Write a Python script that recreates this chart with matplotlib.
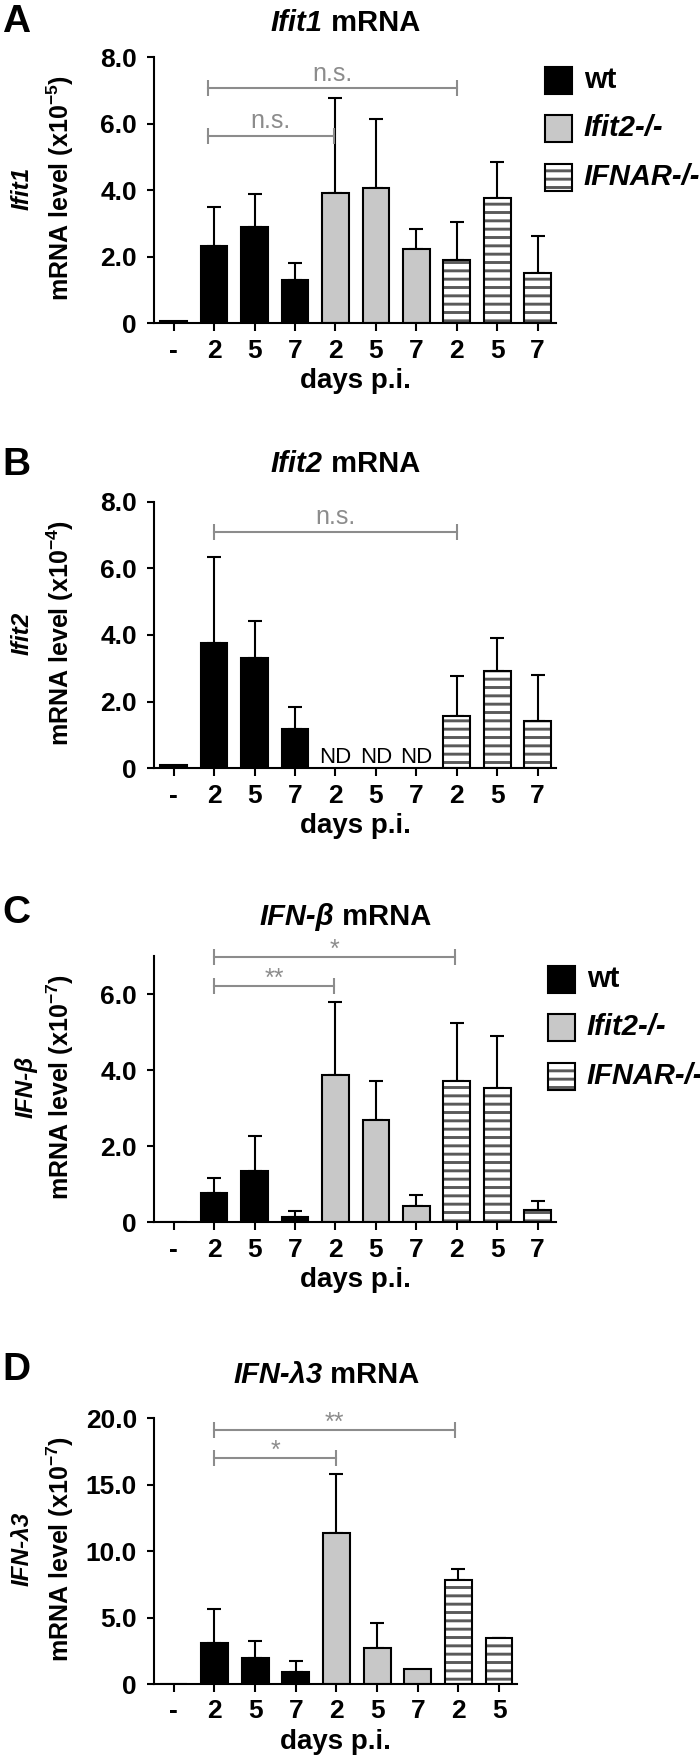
import numpy as np
import matplotlib
matplotlib.use("Agg")
from matplotlib import pyplot as plt
from matplotlib.patches import Rectangle
from matplotlib.offsetbox import TextArea, HPacker, AnnotationBbox

plt.rcParams['font.family'] = ['Liberation Sans', 'DejaVu Sans']
plt.rcParams['font.weight'] = 'bold'
plt.rcParams['axes.labelweight'] = 'bold'
plt.rcParams['mathtext.fontset'] = 'custom'
plt.rcParams['mathtext.rm'] = 'Liberation Sans:bold'
plt.rcParams['mathtext.bf'] = 'Liberation Sans:bold'
plt.rcParams['mathtext.it'] = 'Liberation Sans:italic:bold'
plt.rcParams['hatch.linewidth'] = 2.1

# ---- data ----
days = ["-", "2", "5", "7", "2", "5", "7", "2", "5", "7"]
groups = ["wt", "wt", "wt", "wt", "ko", "ko", "ko", "ifnar", "ifnar", "ifnar"]
legend_labels = ["wt", "Ifit2-/-", "IFNAR-/-"]

ifit1_mean = [0.06, 2.31, 2.91, 1.30, 3.91, 4.06, 2.23, 1.90, 3.76, 1.52]
ifit1_sd = [np.nan, 1.20, 0.97, 0.50, 2.88, 2.09, 0.60, 1.16, 1.08, 1.12]

ifit2_mean = [0.10, 3.75, 3.30, 1.18, np.nan, np.nan, np.nan, 1.58, 2.91, 1.43]
ifit2_sd = [np.nan, 2.60, 1.11, 0.65, np.nan, np.nan, np.nan, 1.20, 1.00, 1.38]

ifnb_mean = [0.0, 0.77, 1.34, 0.13, 3.88, 2.68, 0.42, 3.71, 3.53, 0.33]
ifnb_sd = [np.nan, 0.39, 0.94, 0.16, 1.92, 1.04, 0.30, 1.52, 1.37, 0.24]

ifnl3_mean = [0.0, 3.10, 1.98, 0.93, 11.36, 2.73, 1.10, 7.86, 3.43]
ifnl3_sd = [np.nan, 2.51, 1.27, 0.82, 4.41, 1.83, np.nan, 0.83, 0.07]

# brackets: (start, end, y, label)
brackets_a = [(0.84, 7, 7.07, "n.s."), (0.84, 3.96, 5.64, "n.s.")]
brackets_b = [(1, 7, 7.1, "n.s.")]
brackets_c = [(1, 6.96, 6.97, "*"), (1, 3.96, 6.22, "**")]
brackets_d = [(1, 6.92, 19.1, "**"), (1, 4.0, 17.0, "*")]

W, H = 700, 1759
fig = plt.figure(figsize=(W / 100, H / 100), dpi=100)

gray = "#c8c8c8"
stripe = "#5a5a5a"
bracket_col = "#8c8c8c"
left_px = 154.3
unit_px = 38.5


def make_axes(top, bottom, ncat):
    right = left_px + (ncat - 0.5 + 0.45 + 0.48) * unit_px
    return fig.add_axes([left_px / W, 1 - bottom / H,
                         (right - left_px) / W, (bottom - top) / H])


def draw_panel(ax, mean, sd, ymax, yticks, yticklabels, brackets):
    n = len(mean)
    x = np.arange(n)
    mean = np.array(mean, dtype=float)
    sd = np.array(sd, dtype=float)
    ok = ~np.isnan(mean)
    grp = np.array(groups[:n])

    # error bars (upper only)
    has_err = ok & ~np.isnan(sd)
    ax.errorbar(x[has_err], mean[has_err],
                yerr=[np.zeros(has_err.sum()), sd[has_err]],
                fmt='none', ecolor='black', elinewidth=1.5, capsize=5,
                capthick=1.5, zorder=1)

    m = ok & (grp == "wt")
    ax.bar(x[m], mean[m], 0.66, color='black', edgecolor='black',
           linewidth=1.5, zorder=2)
    m = ok & (grp == "ko")
    ax.bar(x[m], mean[m], 0.66, color=gray, edgecolor='black',
           linewidth=1.5, zorder=2)
    m = ok & (grp == "ifnar")
    ax.bar(x[m], mean[m], 0.66, color='white', edgecolor=stripe,
           hatch='--', linewidth=0, zorder=2)
    ax.bar(x[m], mean[m], 0.66, fill=False, edgecolor='black',
           linewidth=1.5, zorder=3)

    ax.set_xlim(-0.48, n - 1 + 0.45)
    ax.set_ylim(0, ymax)
    ax.set_yticks(yticks)
    ax.set_yticklabels(yticklabels)
    ax.set_xticks(x)
    ax.set_xticklabels(days[:n])
    for s in ["top", "right"]:
        ax.spines[s].set_visible(False)
    for s in ["left", "bottom"]:
        ax.spines[s].set_linewidth(1.5)
    ax.tick_params(axis='y', length=5, width=1.5, pad=7.5, labelsize=19)
    ax.tick_params(axis='x', length=6, width=1.5, pad=5, labelsize=19)
    ax.set_xlabel("days p.i.", fontsize=20, labelpad=4)

    for x0, x1, y, lab in brackets:
        ax.plot([x0, x1], [y, y], color=bracket_col, lw=1.5, marker='|',
                markersize=11, mew=1.5, clip_on=False, zorder=4)
        off = 5.5 if lab == "n.s." else 0
        ax.annotate(lab, xy=((x0 + x1) / 2, y), xytext=(0, off),
                    textcoords='offset points', ha='center', va='baseline',
                    color=bracket_col, fontsize=18, fontweight='normal')


def draw_legend(top, right):
    bx = right + 8
    for i, lab in enumerate(legend_labels):
        cy = top + [23, 71, 120][i]
        fx, fy = bx / W, 1 - (cy + 13.5) / H
        fw, fh = 27 / W, 27 / H
        if i == 0:
            fig.add_artist(Rectangle((fx, fy), fw, fh, transform=fig.transFigure,
                                     facecolor='black', edgecolor='black', lw=1.5))
        elif i == 1:
            fig.add_artist(Rectangle((fx, fy), fw, fh, transform=fig.transFigure,
                                     facecolor=gray, edgecolor='black', lw=1.5))
        else:
            fig.add_artist(Rectangle((fx, fy), fw, fh, transform=fig.transFigure,
                                     facecolor='white', edgecolor=stripe,
                                     hatch='--', lw=0))
            fig.add_artist(Rectangle((fx, fy), fw, fh, transform=fig.transFigure,
                                     fill=False, edgecolor='black', lw=1.5))
        fig.text((bx + 39) / W, 1 - cy / H, lab, fontsize=21, va='center',
                 ha='left', fontstyle='normal' if i == 0 else 'italic')


def labels(letter, letter_y, title_it, title_center, top, bottom, right,
           gene, unit, gene_x=28.5):
    fig.text(2 / W, 1 - letter_y / H, letter, fontsize=28, va='center', ha='left')
    cx = (left_px + right) / 2
    t1 = TextArea(title_it, textprops=dict(fontsize=21, fontstyle='italic',
                                           fontweight='bold'))
    t2 = TextArea(" mRNA", textprops=dict(fontsize=21, fontweight='bold'))
    box = HPacker(children=[t1, t2], align='baseline', pad=0, sep=0)
    fig.add_artist(AnnotationBbox(box, (cx / W, 1 - title_center / H),
                                  xycoords='figure fraction',
                                  box_alignment=(0.5, 0.5), frameon=False,
                                  pad=0))
    cy = (top + bottom) / 2 - 2
    fig.text(gene_x / W, 1 - cy / H, gene, fontsize=17.5, fontstyle='italic',
             rotation=90, rotation_mode='anchor', ha='center', va='baseline')
    fig.text(68.5 / W, 1 - cy / H, "mRNA level (x10$^{%s}$)" % unit,
             fontsize=18, rotation=90, rotation_mode='anchor', ha='center',
             va='baseline')


# ---- panel A ----
top, bot = 57.3, 323.3
axA = make_axes(top, bot, 10)
draw_panel(axA, ifit1_mean, ifit1_sd, 8, [0, 2, 4, 6, 8],
           ["0", "2.0", "4.0", "6.0", "8.0"], brackets_a)
rA = left_px + 9.93 * unit_px
draw_legend(top, rA)
labels("A", 22.5, "Ifit1", 22.7, top, bot, rA, "Ifit1", "-5")

# ---- panel B ----
top, bot = 501.7, 768.3
axB = make_axes(top, bot, 10)
draw_panel(axB, ifit2_mean, ifit2_sd, 8, [0, 2, 4, 6, 8],
           ["0", "2.0", "4.0", "6.0", "8.0"], brackets_b)
for i, v in enumerate(ifit2_mean):
    if np.isnan(v):
        axB.annotate("ND", xy=(i, 0), xytext=(0, 4), textcoords='offset points',
                     ha='center', va='baseline', fontsize=16, fontweight='normal')
labels("B", 465, "Ifit2", 463.7, top, bot, rA, "Ifit2", "-4")

# ---- panel C ----
top, bot = 956.0, 1222.3
axC = make_axes(top, bot, 10)
draw_panel(axC, ifnb_mean, ifnb_sd, 7, [0, 2, 4, 6],
           ["0", "2.0", "4.0", "6.0"], brackets_c)
draw_legend(top, rA + 3)
labels("C", 913, "IFN-β", 917, top, bot, rA, "IFN-β", "-7", gene_x=33)

# ---- panel D ----
top, bot = 1418.3, 1684.0
axD = make_axes(top, bot, 9)
draw_panel(axD, ifnl3_mean, ifnl3_sd, 20, [0, 5, 10, 15, 20],
           ["0", "5.0", "10.0", "15.0", "20.0"], brackets_d)
rD = left_px + 8.93 * unit_px
labels("D", 1370, "IFN-λ3", 1375, top, bot, rD, "IFN-λ3", "-7")

fig.savefig("out.png", dpi=100)
